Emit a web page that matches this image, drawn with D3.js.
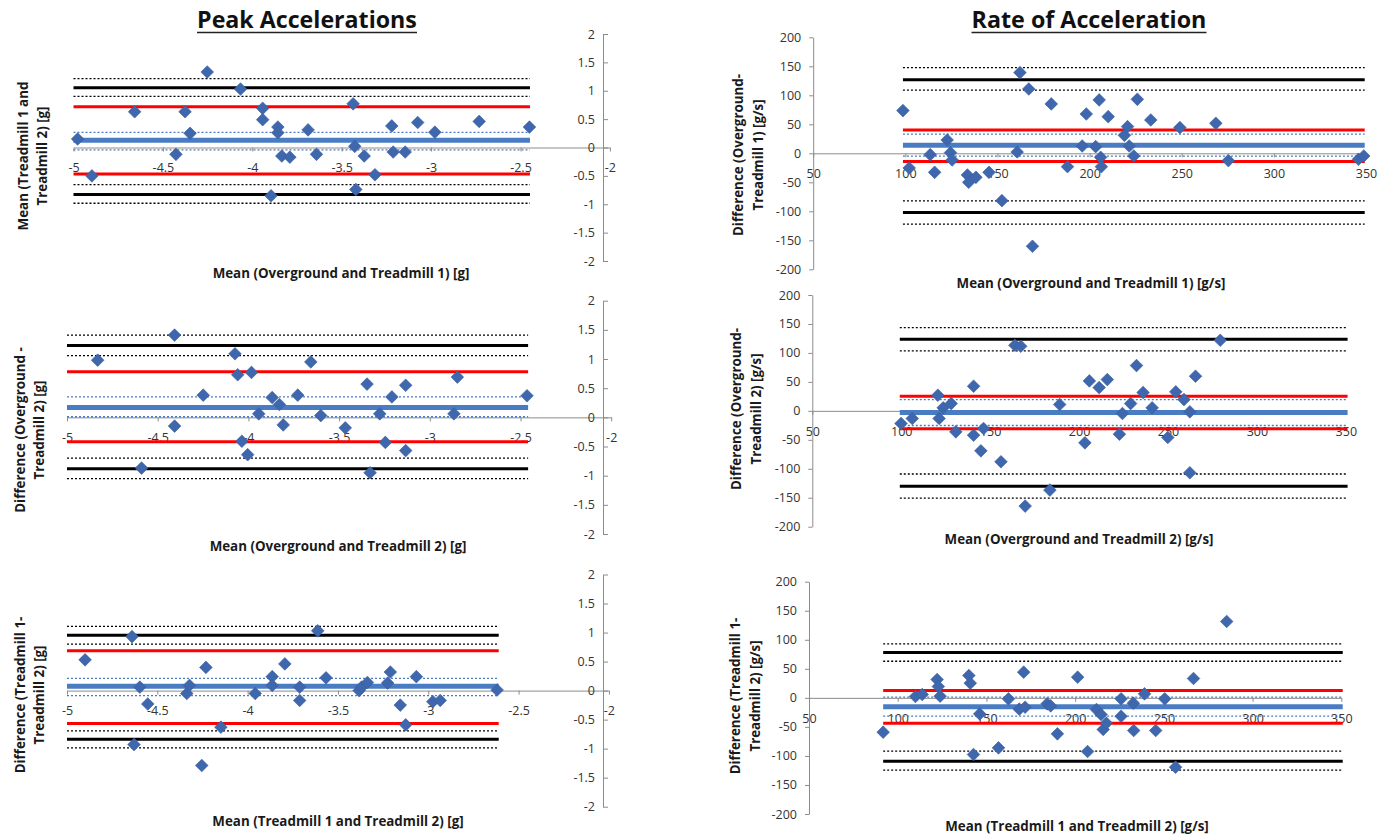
<!DOCTYPE html>
<html><head><meta charset="utf-8">
<script src="https://cdn.jsdelivr.net/npm/d3@7"></script>
<style>body{margin:0;background:#fff}svg{display:block}</style>
</head><body>
<svg id="chart" width="1383" height="838"></svg>
<script>
// ---------------- data ----------------
const peakXTicks = [-5, -4.5, -4, -3.5, -3, -2.5, -2];
const peakYTicks = [-2, -1.5, -1, -0.5, 0, 0.5, 1, 1.5, 2];
const rateXTicks = [50, 100, 150, 200, 250, 300, 350];
const rateYTicks = [-200, -150, -100, -50, 0, 50, 100, 150, 200];
// order of reference lines in each *Lines array
const lineKinds = ["loaCI", "loa", "loaCI", "red", "biasCI", "bias", "biasCI", "red", "loaCI", "loa", "loaCI"];

// Peak accelerations – Overground vs Treadmill 1
const peakOT1Mean = [-4.977,-4.897,-4.658,-4.427,-4.376,-4.348,-4.252,-4.066,-3.942,-3.942,-3.857,-3.857,-3.835,-3.79,-3.895,-3.688,-3.641,-3.436,-3.427,-3.421,-3.374,-3.314,-3.22,-3.212,-3.145,-3.075,-2.979,-2.731,-2.45];
const peakOT1Diff = [0.15,-0.50,0.63,-0.12,0.63,0.25,1.33,1.03,0.69,0.49,0.36,0.26,-0.15,-0.17,-0.85,0.31,-0.12,0.77,0.02,-0.74,-0.15,-0.48,0.38,-0.08,-0.08,0.44,0.27,0.46,0.36];
const peakOT1Lines = [1.213, 1.055, 0.902, 0.72, 0.268, 0.128, -0.042, -0.466, -0.653, -0.829, -0.982];
const peakOT1Span = [-5, -2.447];

// Peak accelerations – Overground vs Treadmill 2
const peakOT2Mean = [-4.831,-4.589,-4.407,-4.407,-4.249,-4.074,-4.059,-3.983,-4.036,-4.004,-3.943,-3.869,-3.829,-3.808,-3.728,-3.656,-3.601,-3.466,-3.346,-3.329,-3.276,-3.245,-3.209,-3.133,-3.133,-2.867,-2.848,-2.464];
const peakOT2Diff = [0.98,-0.87,1.41,-0.15,0.38,1.09,0.73,0.77,-0.41,-0.64,0.06,0.34,0.22,-0.13,0.38,0.95,0.03,-0.18,0.57,-0.95,0.06,-0.43,0.35,0.55,-0.57,0.06,0.69,0.37];
const peakOT2Lines = [1.41, 1.23, 1.06, 0.78, 0.35, 0.17, 0.01, -0.42, -0.70, -0.88, -1.05];
const peakOT2Span = [-5, -2.458];

// Peak accelerations – Treadmill 1 vs Treadmill 2
const peakTTMean = [-4.900,-4.640,-4.629,-4.597,-4.553,-4.337,-4.322,-4.254,-4.231,-4.148,-3.958,-3.864,-3.864,-3.794,-3.712,-3.712,-3.612,-3.566,-3.383,-3.369,-3.337,-3.225,-3.210,-3.155,-3.125,-3.066,-2.975,-2.934,-2.619];
const peakTTDiff = [0.53,0.93,-0.93,0.06,-0.23,-0.05,0.09,-1.29,0.40,-0.63,-0.05,0.24,0.09,0.46,0.06,-0.17,1.03,0.22,0.00,0.06,0.14,0.13,0.32,-0.25,-0.59,0.24,-0.19,-0.17,0.01];
const peakTTLines = [1.107, 0.952, 0.802, 0.688, 0.212, 0.074, -0.086, -0.566, -0.693, -0.838, -0.986];
const peakTTSpan = [-5, -2.61];

// Rate of acceleration – Overground vs Treadmill 1
const rateOT1Mean = [98.7,102.1,113.5,115.9,122.7,124.5,125.4,133.7,134.4,138.3,145.4,152.4,160.7,162.2,167.0,169.0,179.2,188.0,196.0,198.2,203.3,205.2,206.0,206.4,210.1,218.9,220.6,221.5,224.0,225.9,233.2,249.0,268.5,275.3,345.9,348.8];
const rateOT1Diff = [73.6,-25.3,-2.3,-32.8,23.0,1.1,-11.5,-37.4,-50.0,-41.4,-32.8,-81.6,2.3,139.1,110.9,-160.3,85.1,-23.0,12.6,67.8,11.5,92.0,-6.9,-23.0,63.2,31.0,46.0,12.6,-4.6,93.1,57.5,44.3,51.7,-12.6,-10.3,-4.6];
const rateOT1Lines = [147.7, 127, 109, 40, 33, 14, -5, -14, -82, -102, -122];
const rateOT1Span = [98.7, 349.3];

// Rate of acceleration – Overground vs Treadmill 2
const rateOT2Mean = [99.9,106.2,120.6,121.3,123.6,128.1,130.7,140.7,140.7,146.3,144.8,156.1,163.9,167.2,169.7,183.6,189.1,203.3,205.8,211.3,215.9,222.7,224.4,229.0,232.3,236.0,241.1,249.9,254.4,259.0,262.3,262.3,265.5,279.4];
const rateOT2Diff = [-21.8,-13.2,27.0,-13.2,5.2,12.6,-36.2,42.5,-42.0,-30.5,-69.0,-87.9,113.2,111.5,-164.4,-136.8,10.9,-55.2,51.7,40.2,54.0,-40.2,-4.6,12.6,78.2,31.6,5.2,-46.0,32.8,19.5,-1.7,-106.9,59.8,121.8];
const rateOT2Lines = [143.7, 123.6, 103.4, 25.3, 19.5, -2.9, -25.3, -31, -109, -130, -150.6];
const rateOT2Span = [99.2, 351];

// Rate of acceleration – Treadmill 1 vs Treadmill 2
const rateTTMean = [91.8,110.0,113.8,122.2,122.9,123.9,140.1,140.9,142.7,146.2,156.8,162.4,168.5,171.0,171.8,184.2,186.2,190.0,201.4,207.0,212.0,214.6,215.8,217.6,225.9,225.9,232.8,233.0,239.1,245.4,250.5,256.6,266.7,285.4];
const rateTTDiff = [-59.1,2.3,5.7,31.6,19.5,2.9,38.5,25.3,-97.6,-27.6,-86.1,-1.7,-19.5,44.2,-16.1,-10.3,-13.8,-62.0,35.6,-92.4,-20.1,-28.7,-54.5,-43.6,-1.7,-31.6,-9.2,-56.3,6.9,-56.3,-1.7,-119.4,33.3,131.5];
const rateTTLines = [93, 78, 63, 12.6, 1.1, -15.5, -31.6, -43.6, -91.8, -109, -124.6];
const rateTTSpan = [91.8, 350.8];

const colTitles = ["Peak Accelerations", "Rate of Acceleration"];

// ---------------- layout ----------------
const FONT = "'Open Sans', 'DejaVu Sans', sans-serif";
const panels = [
  {side:"L", mean:peakOT1Mean, diff:peakOT1Diff, lines:peakOT1Lines, span:peakOT1Span,
   xd:[-5,-2.5], xr:[73.5,520.5], yr:[261,34], yAxisX:603,
   xt:"Mean (Overground and Treadmill 1) [g]", xtPos:[341,273],
   yt:["Mean (Treadmill 1 and","Treadmill 2) [g]"], ytPos:[23,42,156]},
  {side:"L", mean:peakOT2Mean, diff:peakOT2Diff, lines:peakOT2Lines, span:peakOT2Span,
   xd:[-5,-2.5], xr:[67,520.5], yr:[534,300.7], yAxisX:603,
   xt:"Mean (Overground and Treadmill 2) [g]", xtPos:[338,546],
   yt:["Difference (Overground -","Treadmill 2) [g]"], ytPos:[20,39,430]},
  {side:"L", mean:peakTTMean, diff:peakTTDiff, lines:peakTTLines, span:peakTTSpan,
   xd:[-5,-2.5], xr:[67,518.6], yr:[806.7,574.5], yAxisX:603,
   xt:"Mean (Treadmill 1 and Treadmill 2) [g]", xtPos:[338,821],
   yt:["Difference (Treadmill 1-","Treadmill 2) [g]"], ytPos:[20,39,695]},
  {side:"R", mean:rateOT1Mean, diff:rateOT1Diff, lines:rateOT1Lines, span:rateOT1Span,
   xd:[50,350], xr:[813.2,1366], yr:[269.3,37.3],
   xt:"Mean (Overground and Treadmill 1) [g/s]", xtPos:[1091,283],
   yt:["Difference (Overground-","Treadmill 1) [g/s]"], ytPos:[738,758,155]},
  {side:"R", mean:rateOT2Mean, diff:rateOT2Diff, lines:rateOT2Lines, span:rateOT2Span,
   xd:[50,350], xr:[812.3,1345.8], yr:[526.7,295],
   xt:"Mean (Overground and Treadmill 2) [g/s]", xtPos:[1079,539],
   yt:["Difference (Overground-","Treadmill 2) [g/s]"], ytPos:[736,756,409]},
  {side:"R", mean:rateTTMean, diff:rateTTDiff, lines:rateTTLines, span:rateTTSpan,
   xd:[50,350], xr:[809,1341.3], yr:[814,581.7],
   xt:"Mean (Treadmill 1 and Treadmill 2) [g/s]", xtPos:[1077,826],
   yt:["Difference (Treadmill 1-","Treadmill 2) [g/s]"], ytPos:[735,755,696]}
];

const lineStyle = {
  loa:    {stroke:"#000000", w:3,   dash:null},
  loaCI:  {stroke:"#000000", w:1.3, dash:"2,2"},
  red:    {stroke:"#ff0000", w:3,   dash:null},
  bias:   {stroke:"#4a7cc4", w:5,   dash:null},
  biasCI: {stroke:"#4a7cc4", w:1.3, dash:"2,2"}
};

const svg = d3.select("#chart");
const AXIS = "#8c8c8c";
const TICKFS = 12.5;

// axis title font size fitted once
const probe = svg.append("text").attr("font-family", FONT).attr("font-weight", "bold")
  .attr("font-size", 12).text("Mean (Overground and Treadmill 1) [g]");
const TITLEFS = 12 * 257 / probe.node().getComputedTextLength();
probe.remove();

function styleAxis(g) {
  g.select(".domain").attr("stroke", AXIS).attr("stroke-width", 1);
  g.selectAll(".tick line").attr("stroke", AXIS);
  g.selectAll(".tick text").attr("fill", "#333").attr("font-family", FONT).attr("font-size", TICKFS);
}

panels.forEach(p => {
  const g = svg.append("g");
  const x = d3.scaleLinear().domain(p.xd).range(p.xr);
  const yd = p.side === "L" ? [-2, 2] : [-200, 200];
  const y = d3.scaleLinear().domain(yd).range(p.yr);
  const xTicks = p.side === "L" ? peakXTicks : rateXTicks;
  const yTicks = p.side === "L" ? peakYTicks : rateYTicks;
  const fmt = v => String(v);

  // x axis across y = 0
  const xAxisScale = x.copy().domain([xTicks[0], xTicks[xTicks.length - 1]])
    .range([x(xTicks[0]), x(xTicks[xTicks.length - 1])]);
  const gx = g.append("g").attr("transform", `translate(0,${y(0)})`)
    .call(d3.axisBottom(xAxisScale).tickValues(xTicks).tickFormat(fmt)
      .tickSizeInner(4).tickSizeOuter(0).tickPadding(12));
  styleAxis(gx);

  // y axis
  const axisX = p.side === "L" ? p.yAxisX : x(50);
  const gy = g.append("g").attr("transform", `translate(${axisX},0)`);
  if (p.side === "L") {
    gy.call(d3.axisLeft(y).tickValues(yTicks).tickFormat(fmt)
      .tickSizeInner(-5).tickSizeOuter(0).tickPadding(8));
  } else {
    gy.call(d3.axisLeft(y).tickValues(yTicks).tickFormat(fmt)
      .tickSizeInner(4).tickSizeOuter(0).tickPadding(8));
  }
  styleAxis(gy);

  // reference lines
  g.append("g").selectAll("line").data(p.lines).join("line")
    .attr("x1", x(p.span[0])).attr("x2", x(p.span[1]))
    .attr("y1", d => y(d)).attr("y2", d => y(d))
    .attr("stroke", (d, i) => lineStyle[lineKinds[i]].stroke)
    .attr("stroke-width", (d, i) => lineStyle[lineKinds[i]].w)
    .attr("stroke-dasharray", (d, i) => lineStyle[lineKinds[i]].dash);

  // points
  const pts = p.mean.map((m, i) => [m, p.diff[i]]);
  g.append("g").selectAll("path").data(pts).join("path")
    .attr("d", d3.symbol().type(d3.symbolSquare).size(80))
    .attr("transform", d => `translate(${x(d[0])},${y(d[1])}) rotate(45)`)
    .attr("fill", "#3f67ae").attr("stroke", "#3a5f9f").attr("stroke-width", 0.6);

  // x title
  g.append("text").attr("x", p.xtPos[0]).attr("y", p.xtPos[1]).attr("dy", "0.35em")
    .attr("text-anchor", "middle").attr("font-family", FONT).attr("font-weight", "bold")
    .attr("font-size", TITLEFS).attr("fill", "#1a1a1a").text(p.xt);

  // y title (two lines)
  p.yt.forEach((t, i) => {
    g.append("text")
      .attr("transform", `translate(${p.ytPos[i]},${p.ytPos[2]}) rotate(-90)`)
      .attr("dy", "0.35em").attr("text-anchor", "middle")
      .attr("font-family", FONT).attr("font-weight", "bold")
      .attr("font-size", TITLEFS).attr("fill", "#1a1a1a").text(t);
  });
});

// column titles
const titleCfg = [{cx:307, w:220}, {cx:1089, w:235}];
colTitles.forEach((t, i) => {
  const c = titleCfg[i];
  const txt = svg.append("text").attr("x", c.cx).attr("y", 28).attr("text-anchor", "middle")
    .attr("font-family", FONT).attr("font-weight", "bold").attr("font-size", 20)
    .attr("fill", "#111").text(t);
  const len = txt.node().getComputedTextLength();
  txt.attr("font-size", 20 * c.w / len);
  svg.append("line").attr("x1", c.cx - c.w / 2).attr("x2", c.cx + c.w / 2)
    .attr("y1", 32.5).attr("y2", 32.5).attr("stroke", "#222").attr("stroke-width", 1.6);
});
</script>
</body></html>
